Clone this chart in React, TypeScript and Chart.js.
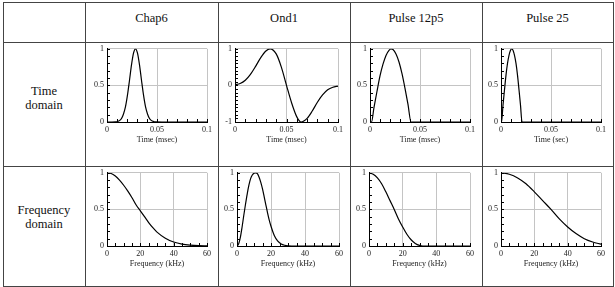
import React, { useEffect, useRef } from 'react';
import { Chart, registerables } from 'chart.js';

Chart.register(...registerables);

// ---------- DATA ----------
const columnTitles = ['Chap6', 'Ond1', 'Pulse 12p5', 'Pulse 25'];
const rowTitles = [['Time', 'domain'], ['Frequency', 'domain']];

const timeTicks = [0, 0.05, 0.1];
const timeTickLabels = ['0', '0.05', '0.1'];
const unitTicks = [0, 0.5, 1];
const unitTickLabels = ['0', '0.5', '1'];
const bipolarTicks = [-1, 0, 1];
const bipolarTickLabels = ['-1', '0', '1'];
const freqTicks = [0, 20, 40, 60];
const freqTickLabels = ['0', '20', '40', '60'];

// Chap6 – time domain (msec)
const chap6TimeX = [0, 0.005, 0.0085, 0.0105, 0.0125, 0.0145, 0.0165, 0.0185, 0.0205, 0.0225, 0.0245, 0.0265, 0.0285, 0.0305, 0.0325, 0.0345, 0.0365, 0.0385, 0.0405, 0.0425, 0.0445, 0.0465, 0.0485, 0.055, 0.07, 0.1];
const chap6TimeY = [0, 0, 0.002, 0.007, 0.019, 0.048, 0.11, 0.21, 0.37, 0.57, 0.78, 0.94, 1.0, 0.94, 0.78, 0.57, 0.37, 0.21, 0.11, 0.048, 0.019, 0.007, 0.002, 0, 0, 0];

// Ond1 – time domain (msec)
const ond1TimeX = [0, 0.005, 0.01, 0.015, 0.02, 0.025, 0.03, 0.034, 0.04, 0.045, 0.05, 0.055, 0.06, 0.064, 0.07, 0.075, 0.08, 0.085, 0.09, 0.095, 0.1];
const ond1TimeY = [0.02, 0.05, 0.14, 0.3, 0.52, 0.76, 0.94, 1.0, 0.86, 0.5, 0.0, -0.48, -0.86, -1.0, -0.9, -0.7, -0.46, -0.26, -0.12, -0.05, -0.02];

// Pulse 12p5 – time domain (msec)
const p12TimeX = [0, 0.0015, 0.004, 0.007, 0.01, 0.013, 0.016, 0.019, 0.021, 0.023, 0.026, 0.029, 0.032, 0.035, 0.038, 0.041, 0.05, 0.1];
const p12TimeY = [0, 0, 0.2, 0.42, 0.63, 0.79, 0.91, 0.98, 1.0, 0.99, 0.93, 0.82, 0.66, 0.46, 0.24, 0, 0, 0];

// Pulse 25 – time domain (sec)
const p25TimeX = [0, 0.0005, 0.002, 0.0035, 0.005, 0.0065, 0.008, 0.0095, 0.0107, 0.012, 0.0135, 0.015, 0.0165, 0.018, 0.0195, 0.021, 0.03, 0.1];
const p25TimeY = [0, 0, 0.23, 0.44, 0.64, 0.8, 0.91, 0.98, 1.0, 0.98, 0.91, 0.8, 0.64, 0.44, 0.23, 0, 0, 0];

// Chap6 – frequency domain (kHz)
const chap6FreqX = [0, 2.5, 5, 7.5, 10, 12.5, 15, 17.5, 20, 22.5, 25, 27.5, 30, 35, 40, 45, 50, 55, 60];
const chap6FreqY = [1, 0.99, 0.955, 0.9, 0.83, 0.75, 0.66, 0.56, 0.48, 0.4, 0.32, 0.25, 0.19, 0.107, 0.054, 0.025, 0.011, 0.004, 0.001];

// Ond1 – frequency domain (kHz)
const ond1FreqX = [0, 1, 2, 3, 4, 5, 6, 7, 8, 9, 10, 11, 12, 13, 14, 15, 16, 17, 18, 19, 20, 22, 24, 26, 28, 30, 35, 60];
const ond1FreqY = [0, 0.03, 0.12, 0.26, 0.42, 0.57, 0.71, 0.83, 0.92, 0.97, 0.995, 1, 0.99, 0.94, 0.87, 0.78, 0.67, 0.56, 0.45, 0.35, 0.27, 0.14, 0.065, 0.027, 0.01, 0.003, 0, 0];

// Pulse 12p5 – frequency domain (kHz)
const p12FreqX = [0, 2.5, 5, 7.5, 10, 12.5, 15, 17.5, 20, 22.5, 25, 27.5, 30, 32, 40, 60];
const p12FreqY = [1, 0.98, 0.93, 0.85, 0.74, 0.62, 0.5, 0.37, 0.26, 0.16, 0.085, 0.035, 0.008, 0, 0, 0];

// Pulse 25 – frequency domain (kHz)
const p25FreqX = [0, 5, 10, 15, 20, 25, 30, 35, 40, 45, 50, 55, 60];
const p25FreqY = [1, 0.98, 0.93, 0.85, 0.74, 0.62, 0.5, 0.37, 0.26, 0.17, 0.1, 0.055, 0.025];

// ---------- LAYOUT / STYLE ----------
const SERIF = "'Liberation Serif', 'Times New Roman', serif";
const YW = 30; // y-axis box width
const XH = 23; // x-axis box height
const PT = 6;
const PR = 9;

const vLines = [3, 85, 218, 350, 482, 613];
const hLines = [2, 42, 166, 286];

function range(min: number, max: number, step: number) {
  const out: number[] = [];
  const n = Math.round((max - min) / step);
  for (let i = 0; i <= n; i++) out.push(+(min + i * step).toFixed(6));
  return out;
}

type PanelCfg = {
  xs: number[]; ys: number[];
  xMin: number; xMax: number; yMin: number; yMax: number;
  xTicks: number[]; xLabels: string[]; yTicks: number[]; yLabels: string[];
  xMinor: number[]; yMinor: number[];
  xTitle: string;
  rect: [number, number, number, number]; // plot area l,t,r,b
};

const timeMinor = range(0, 0.1, 0.01);
const unitMinor = range(0, 1, 0.1);
const biMinor = range(-1, 1, 0.1);
const freqMinor = range(0, 60, 5);

const panels: PanelCfg[] = [
  { xs: chap6TimeX, ys: chap6TimeY, xMin: 0, xMax: 0.1, yMin: 0, yMax: 1, xTicks: timeTicks, xLabels: timeTickLabels, yTicks: unitTicks, yLabels: unitTickLabels, xMinor: timeMinor, yMinor: unitMinor, xTitle: 'Time (msec)', rect: [107, 47, 207, 122] },
  { xs: ond1TimeX, ys: ond1TimeY, xMin: 0, xMax: 0.1, yMin: -1, yMax: 1, xTicks: timeTicks, xLabels: timeTickLabels, yTicks: bipolarTicks, yLabels: bipolarTickLabels, xMinor: timeMinor, yMinor: biMinor, xTitle: 'Time (msec)', rect: [235, 47, 338, 122] },
  { xs: p12TimeX, ys: p12TimeY, xMin: 0, xMax: 0.1, yMin: 0, yMax: 1, xTicks: timeTicks, xLabels: timeTickLabels, yTicks: unitTicks, yLabels: unitTickLabels, xMinor: timeMinor, yMinor: unitMinor, xTitle: 'Time (msec)', rect: [370, 47, 470, 122] },
  { xs: p25TimeX, ys: p25TimeY, xMin: 0, xMax: 0.1, yMin: 0, yMax: 1, xTicks: timeTicks, xLabels: timeTickLabels, yTicks: unitTicks, yLabels: unitTickLabels, xMinor: timeMinor, yMinor: unitMinor, xTitle: 'Time (sec)', rect: [501, 47, 601, 122] },
  { xs: chap6FreqX, ys: chap6FreqY, xMin: 0, xMax: 60, yMin: 0, yMax: 1, xTicks: freqTicks, xLabels: freqTickLabels, yTicks: unitTicks, yLabels: unitTickLabels, xMinor: freqMinor, yMinor: unitMinor, xTitle: 'Frequency (kHz)', rect: [107, 171, 207, 246] },
  { xs: ond1FreqX, ys: ond1FreqY, xMin: 0, xMax: 60, yMin: 0, yMax: 1, xTicks: freqTicks, xLabels: freqTickLabels, yTicks: unitTicks, yLabels: unitTickLabels, xMinor: freqMinor, yMinor: unitMinor, xTitle: 'Frequency (kHz)', rect: [237, 171, 339, 246] },
  { xs: p12FreqX, ys: p12FreqY, xMin: 0, xMax: 60, yMin: 0, yMax: 1, xTicks: freqTicks, xLabels: freqTickLabels, yTicks: unitTicks, yLabels: unitTickLabels, xMinor: freqMinor, yMinor: unitMinor, xTitle: 'Frequency (kHz)', rect: [369, 171, 470, 246] },
  { xs: p25FreqX, ys: p25FreqY, xMin: 0, xMax: 60, yMin: 0, yMax: 1, xTicks: freqTicks, xLabels: freqTickLabels, yTicks: unitTicks, yLabels: unitTickLabels, xMinor: freqMinor, yMinor: unitMinor, xTitle: 'Frequency (kHz)', rect: [501, 171, 601, 246] },
];

const minorTicksPlugin = {
  id: 'minorTicks',
  afterDraw(chart: any, _args: any, opts: any) {
    const { ctx, chartArea, scales } = chart;
    ctx.save();
    ctx.strokeStyle = '#000';
    ctx.lineWidth = 1;
    ctx.beginPath();
    for (const v of opts.x || []) {
      const px = Math.round(scales.x.getPixelForValue(v)) + 0.5;
      ctx.moveTo(px, chartArea.bottom);
      ctx.lineTo(px, chartArea.bottom - 3);
    }
    for (const v of opts.y || []) {
      const py = Math.round(scales.y.getPixelForValue(v)) + 0.5;
      ctx.moveTo(chartArea.left, py);
      ctx.lineTo(chartArea.left + 3, py);
    }
    ctx.stroke();
    ctx.restore();
  },
};

function Panel({ cfg }: { cfg: PanelCfg }) {
  const ref = useRef<HTMLCanvasElement>(null);
  const [l, t, r, b] = cfg.rect;
  const w = r - l + YW + PR;
  const h = b - t + PT + XH;
  useEffect(() => {
    if (!ref.current) return;
    const tickFont = { family: SERIF, size: 8 };
    const chart = new Chart(ref.current, {
      type: 'line',
      data: {
        datasets: [
          {
            data: cfg.xs.map((x, i) => ({ x, y: cfg.ys[i] })),
            borderColor: '#000',
            borderWidth: 1.2,
            pointRadius: 0,
            fill: false,
            cubicInterpolationMode: 'monotone',
          },
        ],
      },
      options: {
        responsive: false,
        animation: false,
        devicePixelRatio: 1,
        layout: { padding: { left: 0, top: PT, right: PR, bottom: 0 } },
        plugins: {
          legend: { display: false },
          tooltip: { enabled: false },
          minorTicks: { x: cfg.xMinor, y: cfg.yMinor },
        } as any,
        scales: {
          x: {
            type: 'linear',
            min: cfg.xMin,
            max: cfg.xMax,
            afterBuildTicks: (s: any) => { s.ticks = cfg.xTicks.map((v) => ({ value: v })); },
            afterFit: (s: any) => { s.height = XH; },
            ticks: {
              padding: 3,
              font: tickFont,
              color: '#222',
              maxRotation: 0,
              autoSkip: false,
              callback: (_v: any, i: number) => cfg.xLabels[i],
            },
            grid: { color: '#c4c4c4', drawTicks: false, lineWidth: 1 },
            border: { color: '#000', width: 1 },
            title: { display: true, text: cfg.xTitle, font: { family: SERIF, size: 8 }, color: '#222', padding: 0 },
          },
          y: {
            type: 'linear',
            min: cfg.yMin,
            max: cfg.yMax,
            afterBuildTicks: (s: any) => { s.ticks = cfg.yTicks.map((v) => ({ value: v })); },
            afterFit: (s: any) => { s.width = YW; },
            ticks: {
              padding: 3,
              font: tickFont,
              color: '#222',
              autoSkip: false,
              callback: (_v: any, i: number) => cfg.yLabels[i],
            },
            grid: { color: '#c4c4c4', drawTicks: false, lineWidth: 1 },
            border: { color: '#000', width: 1 },
          },
        },
      } as any,
      plugins: [minorTicksPlugin],
    });
    return () => chart.destroy();
  }, []);
  return (
    <canvas
      ref={ref}
      width={w}
      height={h}
      style={{ position: 'absolute', left: l - YW, top: t - PT, width: w, height: h }}
    />
  );
}

export default function App() {
  const colCenters = vLines.slice(1, 5).map((x, i) => (x + vLines[i + 2]) / 2);
  return (
    <div
      style={{
        position: 'fixed', left: 0, top: 0, width: 615, height: 287,
        background: '#fff', fontFamily: SERIF, color: '#111', overflow: 'hidden',
      }}
    >
      {vLines.map((x, i) => (
        <div key={'v' + i} style={{ position: 'absolute', left: x, top: hLines[0], width: 1, height: hLines[3] - hLines[0], background: '#444' }} />
      ))}
      {hLines.map((y, i) => (
        <div key={'h' + i} style={{ position: 'absolute', left: vLines[0], top: y, width: vLines[5] - vLines[0] + 1, height: 1, background: '#444' }} />
      ))}
      {columnTitles.map((t, i) => (
        <div key={'c' + i} style={{ position: 'absolute', left: colCenters[i] - 60, width: 120, top: 10, height: 16, lineHeight: '16px', fontSize: 12.5, textAlign: 'center' }}>{t}</div>
      ))}
      {rowTitles.map((lines, i) => (
        <div key={'r' + i} style={{ position: 'absolute', left: vLines[0], width: vLines[1] - vLines[0], top: i === 0 ? 84 : 203, lineHeight: '14px', fontSize: 12.5, textAlign: 'center' }}>
          {lines.map((s, j) => <div key={j}>{s}</div>)}
        </div>
      ))}
      {panels.map((p, i) => <Panel key={i} cfg={p} />)}
    </div>
  );
}
